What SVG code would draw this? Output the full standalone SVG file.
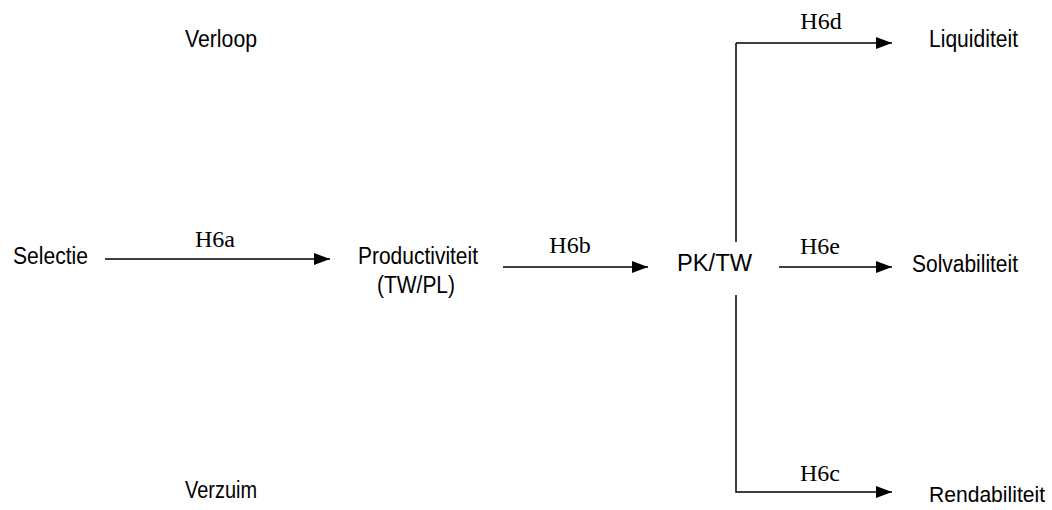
<svg xmlns="http://www.w3.org/2000/svg" width="1052" height="510" viewBox="0 0 1052 510">
<defs>
<marker id="ah" markerUnits="userSpaceOnUse" markerWidth="16" markerHeight="12" refX="16" refY="6" orient="auto">
<path d="M0,0 L16,6 L0,12 Z" fill="#000"/>
</marker>
<style>
.s{font-family:"Liberation Sans",Arial,sans-serif;font-size:23px;fill:#000}
.h{font-family:"Liberation Serif","Times New Roman",serif;font-size:24px;fill:#000;text-anchor:middle}
.c{stroke:#000;stroke-width:1.5;fill:none}
</style>
</defs>
<rect width="1052" height="510" fill="#fff"/>
<g id="verloop"><text class="s" x="185" y="47" textLength="72" lengthAdjust="spacingAndGlyphs">Verloop</text></g>
<g id="selectie"><text class="s" x="13" y="264" textLength="75" lengthAdjust="spacingAndGlyphs">Selectie</text></g>
<g id="productiviteit"><text class="s" x="358" y="264" textLength="120" lengthAdjust="spacingAndGlyphs">Productiviteit</text><text class="s" x="377" y="293" textLength="78" lengthAdjust="spacingAndGlyphs">(TW/PL)</text></g>
<g id="pktw"><text class="s" x="677" y="271" textLength="75" lengthAdjust="spacingAndGlyphs">PK/TW</text></g>
<g id="liquiditeit"><text class="s" x="929" y="47" textLength="89" lengthAdjust="spacingAndGlyphs">Liquiditeit</text></g>
<g id="solvabiliteit"><text class="s" x="912" y="272" textLength="106" lengthAdjust="spacingAndGlyphs">Solvabiliteit</text></g>
<g id="rendabiliteit"><text class="s" x="929" y="502" style="font-size:22px" textLength="116" lengthAdjust="spacingAndGlyphs">Rendabiliteit</text></g>
<g id="verzuim"><text class="s" x="185" y="498" textLength="72" lengthAdjust="spacingAndGlyphs">Verzuim</text></g>
<g id="connectors">
<line class="c" x1="105" y1="259" x2="330" y2="259" marker-end="url(#ah)"/>
<line class="c" x1="503" y1="267" x2="648" y2="267" marker-end="url(#ah)"/>
<line class="c" x1="736" y1="242" x2="736" y2="43"/>
<polyline class="c" points="736,43 892,43" marker-end="url(#ah)"/>
<line class="c" x1="779" y1="267" x2="892" y2="267" marker-end="url(#ah)"/>
<polyline class="c" points="736,295 736,492 892,492" marker-end="url(#ah)"/>
<text class="h" x="215" y="247">H6a</text>
<text class="h" x="570" y="253">H6b</text>
<text class="h" x="821" y="29">H6d</text>
<text class="h" x="820" y="254">H6e</text>
<text class="h" x="820" y="481">H6c</text>
</g>
</svg>
